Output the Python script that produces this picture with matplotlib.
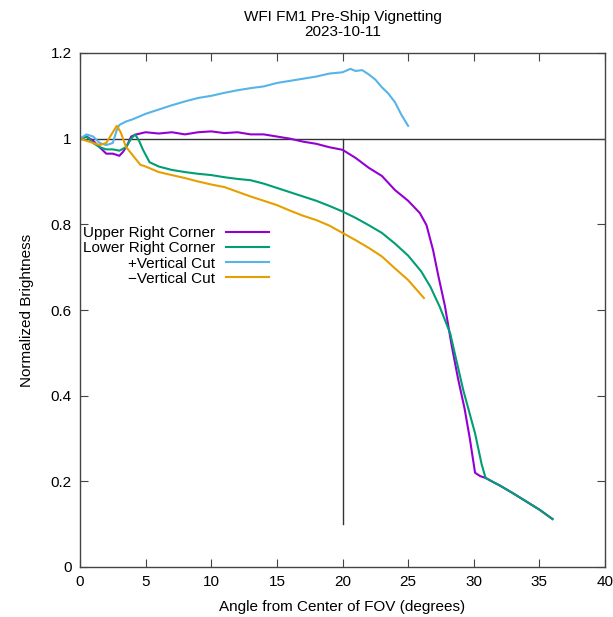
import matplotlib
matplotlib.use('Agg')
import matplotlib.pyplot as plt

plt.rcParams['font.family'] = ['Liberation Sans', 'DejaVu Sans']

# Upper Right Corner
x_upper = [0, 0.5, 1.0, 1.5, 2.0, 2.5, 3.0, 3.3, 3.6, 3.9, 4.3, 5, 6, 7, 8, 9, 10, 11, 12,
           13, 14, 15, 16, 17, 18, 19, 20, 21, 22, 23, 24, 25, 25.9, 26.4, 26.9, 27.3,
           27.8, 28.3, 28.8, 29.3, 29.7, 30.1, 30.5, 30.9, 31.5, 32, 33, 34, 35, 36]
y_upper = [1.0, 1.005, 0.995, 0.98, 0.965, 0.965, 0.96, 0.97, 0.985, 1.005, 1.01, 1.015,
           1.012, 1.015, 1.01, 1.015, 1.017, 1.013, 1.015, 1.01, 1.01, 1.005, 1.0, 0.993,
           0.988, 0.98, 0.974, 0.955, 0.932, 0.913, 0.88, 0.855, 0.826, 0.798, 0.74, 0.68,
           0.61, 0.52, 0.44, 0.37, 0.30, 0.22, 0.212, 0.208, 0.198, 0.19, 0.172, 0.153,
           0.134, 0.112]

# Lower Right Corner
x_lower = [0, 0.5, 1, 1.5, 2, 2.5, 3, 3.5, 3.9, 4.2, 4.5, 4.8, 5.3, 6, 7, 8, 9, 10, 11,
           12, 13, 14, 15, 16, 17, 18, 19, 20, 21, 22, 23, 24, 25, 26, 26.7, 27.4, 28.2,
           29.2, 30.1, 30.6, 30.9, 31.5, 32, 33, 34, 35, 36]
y_lower = [1.0, 1.005, 0.99, 0.98, 0.975, 0.975, 0.972, 0.98, 1.0, 1.01, 0.995, 0.974,
           0.945, 0.935, 0.927, 0.922, 0.918, 0.915, 0.91, 0.906, 0.903, 0.895, 0.885,
           0.875, 0.865, 0.855, 0.843, 0.83, 0.815, 0.798, 0.78, 0.755, 0.727, 0.69, 0.654,
           0.608, 0.546, 0.413, 0.312, 0.24, 0.208, 0.198, 0.19, 0.172, 0.153, 0.134, 0.112]

# +Vertical Cut
x_plus = [0, 0.5, 1, 1.5, 2, 2.5, 2.8, 3, 3.5, 4, 5, 6, 7, 8, 9, 10, 11, 12, 13, 14, 15,
          16, 17, 18, 19, 20, 20.6, 21, 21.5, 22, 22.5, 23, 23.5, 24, 24.5, 25]
y_plus = [1.0, 1.01, 1.005, 0.99, 0.985, 0.99, 1.02, 1.032, 1.04, 1.045, 1.058, 1.068,
          1.078, 1.087, 1.095, 1.1, 1.107, 1.113, 1.118, 1.122, 1.13, 1.135, 1.14, 1.145,
          1.152, 1.155, 1.163, 1.158, 1.16, 1.15, 1.138, 1.12, 1.105, 1.085, 1.055, 1.03]

# -Vertical Cut
x_minus = [0, 0.5, 1, 1.5, 2, 2.4, 2.8, 3.1, 3.5, 4.1, 4.6, 5, 6, 7, 8, 9, 10, 11, 12, 13,
           14, 15, 16, 17, 18, 19, 20, 21, 22, 23, 24, 25, 26, 26.2]
y_minus = [1.0, 0.995, 0.99, 0.985, 0.99, 1.01, 1.03, 1.015, 0.981, 0.958, 0.939, 0.935,
           0.922, 0.915, 0.908, 0.9, 0.893, 0.887, 0.876, 0.865, 0.855, 0.845, 0.832, 0.82,
           0.81, 0.797, 0.78, 0.763, 0.745, 0.725, 0.697, 0.67, 0.635, 0.628]

labels = ['Upper Right Corner', 'Lower Right Corner', '+Vertical Cut', '\u2212Vertical Cut']
colors = ['#9400D3', '#009E73', '#56B4E9', '#E69F00']

x_ticks = [0, 5, 10, 15, 20, 25, 30, 35, 40]
y_ticks = [0, 0.2, 0.4, 0.6, 0.8, 1.0, 1.2]
y_tick_labels = ['0', '0.2', '0.4', '0.6', '0.8', '1', '1.2']

fig = plt.figure(figsize=(6.13, 6.17), dpi=100)
ax = fig.add_axes([80 / 613, 1 - 567 / 617, 525 / 613, 514 / 617])

# reference lines
ax.plot([0, 40], [1, 1], color='#333333', lw=1.0, zorder=1)
ax.plot([20, 20], [0.1, 1.0], color='#333333', lw=1.0, zorder=1)

series = [(x_upper, y_upper), (x_lower, y_lower), (x_plus, y_plus), (x_minus, y_minus)]
for (xs, ys), lab, col in zip(series, labels, colors):
    ax.plot(xs, ys, color=col, lw=1.5, label=lab, zorder=2)

ax.set_xlim(0, 40)
ax.set_ylim(0, 1.2)
ax.set_xticks(x_ticks)
ax.set_yticks(y_ticks)
ax.set_yticklabels(y_tick_labels)
ax.tick_params(direction='in', length=6, width=0.8, top=True, right=True,
               labelsize=11, color='#444444', pad=6)
for sp in ax.spines.values():
    sp.set_color('#444444')
    sp.set_linewidth(1.0)

ax.set_xlabel('Angle from Center of FOV (degrees)', fontsize=11, labelpad=8)
ax.set_ylabel('Normalized Brightness', fontsize=11, labelpad=12)
ax.set_title('WFI FM1 Pre-Ship Vignetting\n2023-10-11', fontsize=11, pad=12, linespacing=1.1)

ax.legend(loc='upper right', bbox_to_anchor=(0.374, 0.678), frameon=False,
          markerfirst=False, labelspacing=0.08, handlelength=2.8, handletextpad=0.7,
          borderpad=0, fontsize=11)

fig.savefig('out.png', dpi=100)
